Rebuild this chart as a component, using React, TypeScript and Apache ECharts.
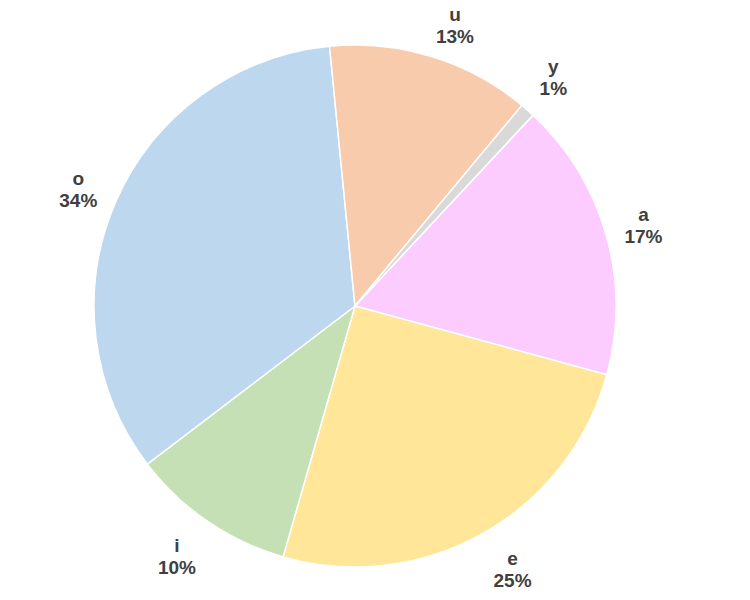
import React, { useEffect, useRef } from "react";
import * as echarts from "echarts";

const categories = ["a", "e", "i", "o", "u", "y"];
const values = [17.3, 25.2, 10.2, 33.8, 12.6, 0.9];
const colors = ["#FCCBFF", "#FFE699", "#C5E0B4", "#BDD7EE", "#F8CBAD", "#D9D9D9"];
const labelShifts: Record<string, number[]> = {
  a: [-3, 2],
  e: [9, -1],
  i: [-7, 0],
  o: [1, 5],
  u: [11, 9],
  y: [-2, -1],
};

export default function App() {
  const ref = useRef<HTMLDivElement>(null);
  useEffect(() => {
    document.body.style.margin = "0";
    const chart = echarts.init(ref.current!, null, { renderer: "svg" });
    const total = values.reduce((s, v) => s + v, 0);
    const data = categories.map((c, i) => ({
      name: c,
      value: values[i],
      itemStyle: { color: colors[i] },
    }));
    chart.setOption({
      animation: false,
      backgroundColor: "#ffffff",
      series: [
        {
          type: "pie",
          center: [355, 306],
          radius: [0, 261],
          startAngle: 47,
          clockwise: true,
          silent: true,
          data,
          label: { show: false },
          labelLine: { show: false },
          itemStyle: { borderColor: "#ffffff", borderWidth: 1.5 },
        },
        {
          type: "pie",
          center: [355, 306],
          radius: [261, 339],
          startAngle: 47,
          clockwise: true,
          silent: true,
          data: categories.map((c, i) => ({
            name: c,
            value: values[i],
            itemStyle: { color: "rgba(0,0,0,0)" },
            label: { offset: labelShifts[c] },
          })),
          labelLine: { show: false },
          label: {
            show: true,
            position: "inside",
            formatter: (p: any) => `${p.name}\n${Math.round((p.value / total) * 100)}%`,
            fontFamily: "Liberation Sans, Arial, sans-serif",
            fontWeight: "bold",
            fontSize: 19,
            lineHeight: 22,
            color: "#404040",
            align: "center",
          },
        },
      ],
    });
    return () => chart.dispose();
  }, []);
  return <div ref={ref} style={{ width: 750, height: 600 }} />;
}
